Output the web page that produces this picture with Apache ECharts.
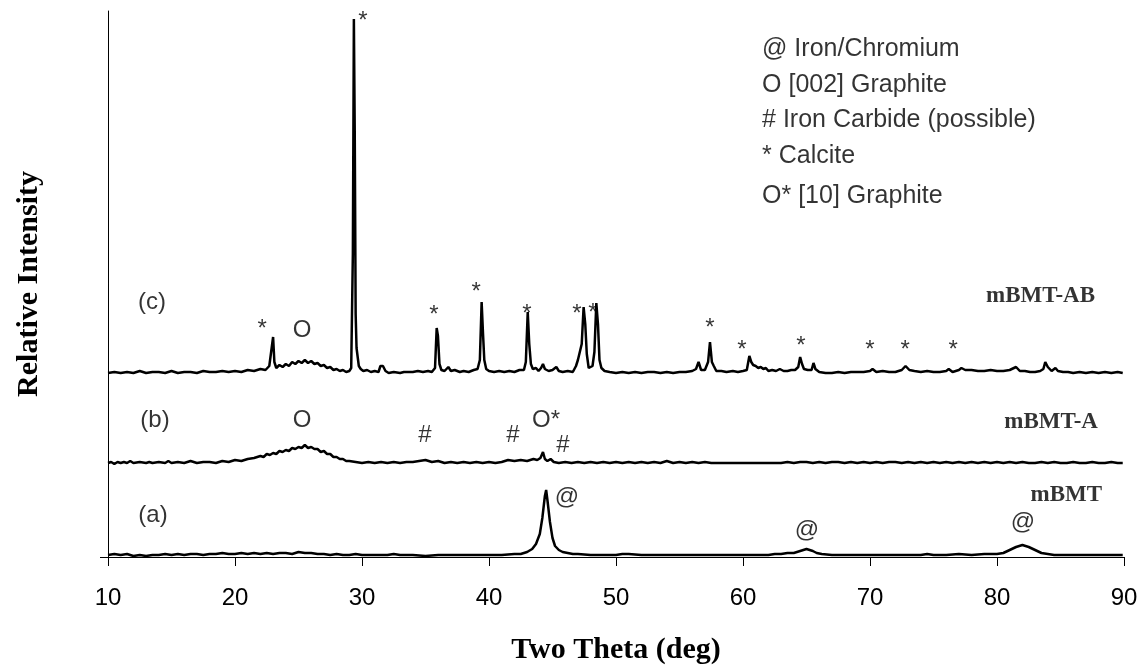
<!DOCTYPE html>
<html>
<head>
<meta charset="utf-8">
<script src="https://cdn.jsdelivr.net/npm/echarts@6/dist/echarts.min.js"></script>
<style>html,body{margin:0;padding:0;background:#fff}#c{width:1146px;height:666px}</style>
</head>
<body>
<div id="c"></div>
<script>
// ---- data (two-theta in deg, intensity above each trace's own baseline, arbitrary units) ----
const xTicks = [10, 20, 30, 40, 50, 60, 70, 80, 90];

const mBMT = [[10,1],[10.5,2],[11,1],[11.5,2],[12,0],[12.5,1],[13,0],[13.5,1],[14,1],[14.5,2],[15,1],[15.5,2],[16,1],[16.5,2],[17,2],[17.5,1],[18,2],[18.5,2],[19,3],[19.5,2],[20,2],[20.5,3],[21,2],[21.5,3],[22,2],[22.5,3],[23,2],[23.5,3],[24,3],[24.5,2],[25,4],[25.5,3],[26,3],[26.5,2],[27,2],[27.5,1],[28,2],[28.5,1],[29,1],[29.5,2],[30,1],[31,1],[32,1],[32.5,2],[33,1],[34,1],[35,0],[36,1],[37,1],[38,1],[39,1],[40,1],[41,1],[42,2],[42.5,2],[43,4],[43.4,7],[43.7,12],[44,22],[44.2,38],[44.4,60],[44.5,66],[44.6,56],[44.8,34],[45,18],[45.2,10],[45.5,6],[45.8,4],[46.2,3],[46.6,2],[47,2],[48,1],[49,1],[50,1],[50.5,2],[51,2],[52,1],[53,1],[54,1],[55,1],[56,1],[57,1],[58,1],[59,1],[60,1],[61,1],[62,1],[62.5,2],[63,2],[63.5,3],[64,3],[64.5,5],[65,7],[65.5,5],[65.8,3],[66.2,2],[67,1],[68,1],[69,1],[70,1],[71,1],[72,1],[73,1],[74,1],[74.5,2],[75,1],[76,1],[77,2],[78,1],[79,2],[79.5,2],[80,2],[80.5,3],[81,6],[81.5,9],[82,11],[82.5,9],[83,6],[83.5,3],[84,2],[84.5,1],[85,1],[86,1],[87,1],[88,1],[89,1],[89.9,1]];

const mBMT_A = [[10,1],[10.25,2],[10.5,0],[10.75,2],[11,1],[11.25,2],[11.5,1],[11.75,3],[12,1],[12.5,2],[13,1],[13.25,2],[13.5,1],[14,2],[14.5,1],[14.75,3],[15,1],[15.5,2],[16,1],[16.5,3],[17,1],[17.5,2],[18,2],[18.5,1],[19,3],[19.5,2],[20,4],[20.5,3],[21,5],[21.5,6],[22,8],[22.25,7],[22.5,10],[22.75,9],[23,11],[23.25,10],[23.5,13],[23.75,12],[24,14],[24.25,13],[24.5,16],[24.75,15],[25,17],[25.25,16],[25.5,19],[25.75,16],[26,17],[26.25,15],[26.5,15],[26.75,12],[27,13],[27.25,10],[27.5,10],[27.75,7],[28,7],[28.25,5],[28.5,5],[28.75,3],[29,3],[29.5,2],[30,1],[30.5,2],[31,1],[31.5,2],[32,1],[32.5,2],[33,1],[33.5,2],[34,2],[34.5,3],[35,4],[35.5,2],[36,3],[36.5,1],[37,2],[37.5,1],[38,2],[38.5,1],[39,2],[39.5,1],[40,2],[40.5,1],[41,2],[41.5,4],[42,3],[42.5,4],[43,3],[43.5,5],[43.8,4],[44.05,6],[44.25,12],[44.4,5],[44.6,3],[44.85,5],[45.1,2],[45.5,1],[46,2],[46.5,1],[47,2],[47.5,1],[48,2],[48.5,1],[49,2],[49.5,1],[50,2],[50.5,1],[51,2],[51.5,1],[52,2],[52.5,1],[53,2],[53.5,1],[54,3],[54.5,1],[55,2],[55.5,1],[56,2],[56.5,1],[57,2],[57.5,1],[58,1],[59,1],[60,1],[61,1],[62,1],[63,1],[63.5,2],[64,1],[64.5,2],[65,2],[65.5,1],[66,2],[66.5,1],[67,2],[67.5,2],[68,1],[68.5,2],[69,1],[69.5,2],[70,1],[70.5,2],[71,1],[71.5,2],[72,2],[72.5,1],[73,2],[73.5,1],[74,2],[74.5,1],[75,2],[75.5,1],[76,2],[76.5,1],[77,2],[77.5,1],[78,2],[78.5,1],[79,2],[79.5,1],[80,2],[80.5,1],[81,2],[81.5,1],[82,2],[82.5,1],[83,1],[83.5,2],[84,1],[84.5,2],[85,1],[85.5,1],[86,2],[86.5,1],[87,1],[87.5,2],[88,1],[88.5,1],[89,2],[89.5,1],[89.9,1]];

const mBMT_AB = [[10,1],[10.5,2],[11,1],[11.5,2],[12,1],[12.5,3],[13,1],[13.5,2],[14,2],[14.5,1],[15,3],[15.5,1],[16,2],[16.5,2],[17,1],[17.5,3],[18,2],[18.5,2],[19,3],[19.5,2],[20,3],[20.5,2],[21,4],[21.5,3],[22,5],[22.4,4],[22.7,8],[22.85,6],[23.0,37],[23.1,12],[23.25,6],[23.5,9],[23.75,7],[24,10],[24.25,8],[24.5,12],[24.75,10],[25,13],[25.25,11],[25.5,14],[25.75,11],[26,13],[26.25,10],[26.5,11],[26.75,8],[27,9],[27.25,6],[27.5,7],[27.75,4],[28,5],[28.25,3],[28.5,4],[28.75,2],[29,3],[29.15,6],[29.28,120],[29.36,355],[29.43,240],[29.5,60],[29.57,26],[29.66,24],[29.75,8],[29.9,5],[30.1,3],[30.4,4],[30.7,2],[31,3],[31.3,2],[31.45,8],[31.65,8],[31.85,3],[32.1,1],[32.5,2],[33,1],[33.3,2],[33.6,2],[34,2],[34.4,3],[34.8,2],[35.2,3],[35.5,2],[35.75,6],[35.88,46],[35.98,38],[36.1,10],[36.25,4],[36.5,3],[36.8,7],[37,3],[37.3,4],[37.7,2],[38,3],[38.4,2],[38.8,4],[39.1,5],[39.28,14],[39.42,72],[39.53,40],[39.63,14],[39.78,5],[40,3],[40.4,2],[40.8,3],[41.2,2],[41.6,3],[42,2],[42.4,4],[42.75,4],[42.9,12],[43.05,62],[43.17,30],[43.3,10],[43.45,5],[43.7,6],[43.9,3],[44.1,6],[44.25,10],[44.4,5],[44.7,3],[45,4],[45.3,7],[45.5,3],[45.8,2],[46.2,3],[46.6,2],[46.85,8],[47.0,14],[47.15,12],[47.3,30],[47.45,67],[47.58,50],[47.7,20],[47.85,6],[48.0,4],[48.15,8],[48.3,22],[48.45,71],[48.58,50],[48.7,14],[48.85,6],[49.1,3],[49.5,2],[50,1],[50.5,2],[51,1],[51.5,2],[52,1],[52.5,2],[53,2],[53.5,1],[54,2],[54.5,1],[55,2],[55.5,2],[56,3],[56.3,5],[56.5,12],[56.7,4],[57,4],[57.25,12],[57.4,32],[57.55,12],[57.7,8],[57.9,3],[58.3,3],[58.7,2],[59.2,3],[59.6,2],[60,3],[60.3,4],[60.5,18],[60.65,12],[60.8,9],[61,8],[61.2,6],[61.4,7],[61.6,5],[61.8,6],[62,3],[62.3,4],[62.6,3],[62.9,5],[63.2,3],[63.5,3],[63.8,4],[64.1,4],[64.35,7],[64.5,17],[64.65,10],[64.8,5],[65.1,4],[65.4,4],[65.55,11],[65.7,5],[66,2],[66.5,1],[67,1],[67.5,2],[68,1],[68.5,2],[69,2],[69.5,2],[70,3],[70.2,5],[70.5,2],[71,3],[71.5,2],[72,2],[72.5,4],[72.8,8],[73.1,4],[73.5,3],[74,2],[74.5,3],[75,2],[75.5,2],[76,3],[76.2,5],[76.5,2],[77,4],[77.2,6],[77.5,4],[78,4],[78.5,3],[79,3],[79.5,4],[80,3],[80.5,3],[81,4],[81.5,7],[81.8,3],[82.2,3],[82.6,2],[83,2],[83.4,3],[83.65,5],[83.8,12],[84,7],[84.3,3],[84.6,6],[84.8,3],[85.2,2],[85.6,2],[86,1],[86.5,2],[87,1],[87.5,2],[88,1],[88.5,2],[89,1],[89.5,2],[89.9,1]];

// vertical offsets of the stacked traces
const baselineOffsets = [1, 93, 183];   // mBMT, mBMT-A, mBMT-AB
const seriesNames = ['mBMT', 'mBMT-A', 'mBMT-AB'];

// peak markers [2theta, height, text]
const peakMarks = [
  [13.46, 255, '(c)'], [22.13, 228, '*'], [25.28, 227, 'O'], [30.08, 536, '*'],
  [35.67, 242, '*'], [38.98, 265, '*'], [42.99, 243, '*'], [46.93, 243, '*'], [48.19, 244, '*'],
  [57.40, 229, '*'], [59.92, 207, '*'], [64.57, 211, '*'], [70.0, 207, '*'], [72.76, 207, '*'], [76.54, 207, '*'],
  [13.70, 137, '(b)'], [25.28, 137, 'O'], [34.96, 122, '#'], [41.89, 122, '#'], [44.49, 137, 'O*'], [45.83, 112, '#'],
  [13.54, 42, '(a)'], [46.14, 60, '@'], [65.04, 27, '@'], [82.05, 35, '@']
];
// sample names [2theta at right edge, height, text]
const sampleLabels = [[87.72, 261, 'mBMT-AB'], [87.95, 135, 'mBMT-A'], [88.27, 62, 'mBMT']];
// key lines [2theta at left edge, height, text]
const keyLines = [
  [61.5, 508, '@ Iron/Chromium'], [61.5, 472, 'O [002] Graphite'], [61.5, 437, '# Iron Carbide (possible)'],
  [61.5, 401, '* Calcite'], [61.5, 361, 'O* [10] Graphite']
];

const SANS = '"Liberation Sans", Arial, sans-serif';
const SERIF = '"Liberation Serif", "Times New Roman", serif';

const chart = echarts.init(document.getElementById('c'), null, {renderer: 'canvas'});

const lineSeries = [mBMT, mBMT_A, mBMT_AB].map((arr, i) => ({
  name: seriesNames[i], type: 'line', showSymbol: false, symbol: 'none',
  data: arr.map(p => [p[0], p[1] + baselineOffsets[i]]),
  lineStyle: {color: '#000', width: 2.5}, itemStyle: {color: '#000'},
  animation: false, silent: true, z: 2
}));

function textSeries(arr, style) {
  return {
    type: 'scatter', symbolSize: 0, silent: true, animation: false, clip: false, z: 5,
    data: arr.map(p => ({value: [p[0], p[1]], name: p[2]})),
    label: Object.assign({show: true, position: 'inside', formatter: d => d.name, color: '#000'}, style)
  };
}

chart.setOption({
  animation: false,
  backgroundColor: '#fff',
  grid: {left: 108, right: 22, top: 11, bottom: 109, containLabel: false, outerBoundsMode: 'none'},
  xAxis: {
    type: 'value', min: 10, max: 90, interval: 10,
    name: 'Two Theta (deg)', nameLocation: 'middle', nameGap: 78,
    nameTextStyle: {fontFamily: SERIF, fontWeight: 'bold', fontSize: 30, color: '#000'},
    axisLine: {show: true, onZero: false, lineStyle: {color: '#000', width: 1}},
    axisTick: {show: true, inside: false, length: 9, lineStyle: {color: '#000'}, customValues: xTicks},
    axisLabel: {fontFamily: SANS, fontSize: 24, color: '#000', margin: 29, customValues: xTicks},
    splitLine: {show: false}
  },
  yAxis: {
    type: 'value', min: 0, max: 546,
    name: 'Relative Intensity', nameLocation: 'middle', nameGap: 64,
    nameTextStyle: {fontFamily: SERIF, fontWeight: 'bold', fontSize: 30, color: '#000'},
    axisLine: {show: true, onZero: false, lineStyle: {color: '#000', width: 1}},
    axisTick: {show: true, inside: false, length: 8, lineStyle: {color: '#000'}, customValues: [0]},
    axisLabel: {show: false},
    splitLine: {show: false}
  },
  series: lineSeries.concat([
    textSeries(peakMarks, {fontFamily: SANS, fontSize: 24}),
    textSeries(sampleLabels, {fontFamily: SERIF, fontWeight: 'bold', fontSize: 23, align: 'right'}),
    textSeries(keyLines, {fontFamily: SANS, fontSize: 25, align: 'left'})
  ])
});
</script>
</body>
</html>
